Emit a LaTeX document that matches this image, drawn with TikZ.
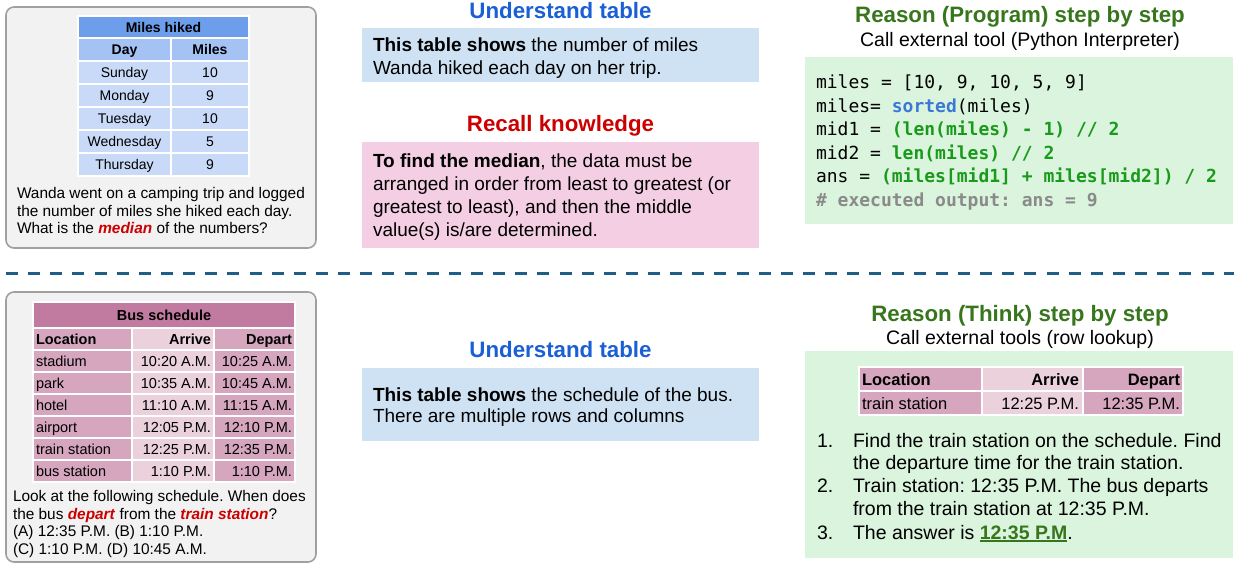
\documentclass[tikz,border=0pt]{standalone}
\usepackage{fontspec}
\setmainfont{Liberation Sans}
\setmonofont{DejaVu Sans Mono}
\frenchspacing

\definecolor{panelfill}{HTML}{F2F2F2}
\definecolor{panelline}{HTML}{A0A0A0}
\definecolor{milesT}{HTML}{6D9EEB}
\definecolor{milesH}{HTML}{A4C2F4}
\definecolor{milesD}{HTML}{C9DAF8}
\definecolor{busT}{HTML}{C27BA0}
\definecolor{busA}{HTML}{D5A6BD}
\definecolor{busB}{HTML}{EAD1DC}
\definecolor{bluebox}{HTML}{CFE2F3}
\definecolor{pinkbox}{HTML}{F4CFE3}
\definecolor{greenbox}{HTML}{DAF4DE}
\definecolor{titleblue}{HTML}{1A5FD6}
\definecolor{titlered}{HTML}{CC0000}
\definecolor{titlegreen}{HTML}{38761D}
\definecolor{codegreen}{HTML}{1A9A1A}
\definecolor{codeblue}{HTML}{3C78D8}
\definecolor{codegray}{HTML}{8A8A8A}
\definecolor{sepcolor}{HTML}{1F5F86}

\newcommand\fsz[2]{\fontsize{#1}{#2}\selectfont}
\newcommand\keyword[1]{\textcolor{titlered}{\textbf{\textit{#1}}}}
\newcommand\answerul[1]{\setbox0\hbox{#1}\rlap{\textcolor{titlegreen}{\rule[-2.6pt]{\wd0}{1.6pt}}}\box0}

\begin{document}
\begin{tikzpicture}[x=1pt,y=-1pt,
  panel/.style={fill=panelfill, draw=panelline, line width=1.6pt, rounded corners=8pt},
  cellbox/.style={draw=white, line width=1.5pt},
  txt/.style={inner sep=0pt, outer sep=0pt},
  tblsmall/.style={txt, font=\fsz{14}{16}},
  tblbus/.style={txt, font=\fsz{14.5}{17}},
  tblright/.style={txt, font=\fsz{16.5}{19}},
  question/.style={txt, anchor=base west, align=left, font=\fsz{15.4}{17.7}},
  boxtext/.style={txt, anchor=base west, align=left},
  headline/.style={txt, anchor=base, font=\bfseries\fsz{22.3}{26}},
  subline/.style={txt, anchor=base, font=\fsz{19.5}{22}},
  sepline/.style={draw=sepcolor, line width=3pt, dash pattern=on 12pt off 10.14pt}]

\useasboundingbox (0,0) rectangle (1234,563);
% multi-line text nodes are placed by the baseline of their last line

% ---------- upper left: question with the miles table ----------
\draw[panel] (6,7) rectangle (316,248);
\filldraw[cellbox, fill=milesT] (78,16) rectangle (249,38);
\node[tblsmall, anchor=base, font=\bfseries\fsz{14}{16}] (mhT) at (163.5,32) {Miles hiked};
\filldraw[cellbox, fill=milesH] (78,38) rectangle (171,61);
\filldraw[cellbox, fill=milesH] (171,38) rectangle (249,61);
\node[tblsmall, anchor=base, font=\bfseries\fsz{14}{16}] (mhDay) at (124.5,54.5) {Day};
\node[tblsmall, anchor=base, font=\bfseries\fsz{14}{16}] (mhMiles) at (210,54.5) {Miles};
\foreach \i/\d/\m in {0/Sunday/10, 1/Monday/9, 2/Tuesday/10, 3/Wednesday/5, 4/Thursday/9} {
  \filldraw[cellbox, fill=milesD] (78,{61+23*\i}) rectangle (171,{84+23*\i});
  \filldraw[cellbox, fill=milesD] (171,{61+23*\i}) rectangle (249,{84+23*\i});
  \node[tblsmall, anchor=base] (day\i) at (124.5,{77.5+23*\i}) {\d};
  \node[tblsmall, anchor=base] (mil\i) at (210,{77.5+23*\i}) {\m};
}
\node[question] (q1) at (17,233.9) {Wanda went on a camping trip and logged\\the number of miles she hiked each day.\\What is the \keyword{median} of the numbers?};

% ---------- upper middle ----------
\node[headline, text=titleblue] (ut1) at (560.5,18.5) {Understand table};
\fill[bluebox] (362,28) rectangle (759,82);
\node[boxtext, font=\fsz{19}{22.5}] (ut1txt) at (373,74) {\textbf{This table shows} the number of miles\\Wanda hiked each day on her trip.};

\node[headline, text=titlered] (rk) at (560.5,131.5) {Recall knowledge};
\fill[pinkbox] (362,142) rectangle (759,248);
\node[boxtext, font=\fsz{19}{23}] (rktxt) at (373,236.5) {\textbf{To find the median}, the data must be\\arranged in order from least to greatest (or\\greatest to least), and then the middle\\value(s) is/are determined.};

% ---------- upper right: program ----------
\node[headline, text=titlegreen] (rp) at (1020,22.5) {Reason (Program) step by step};
\node[subline] (rpsub) at (1020,46.5) {Call external tool (Python Interpreter)};
\fill[greenbox] (805,57) rectangle (1233,224);
\node[boxtext, font=\ttfamily\fsz{18}{23.5}] (code) at (816,206) {%
miles = [10, 9, 10, 5, 9]\\
miles= \textcolor{codeblue}{\textbf{sorted}}(miles)\\
mid1 = \textcolor{codegreen}{\textbf{(len(miles) - 1) // 2}}\\
mid2 = \textcolor{codegreen}{\textbf{len(miles) // 2}}\\
ans = \textcolor{codegreen}{\textbf{(miles[mid1] + miles[mid2]) / 2}}\\
\textcolor{codegray}{\textbf{\# executed output: ans = 9}}};

% ---------- separator ----------
\coordinate (sepL) at (6,273);
\coordinate (sepR) at (1234,273);
\draw[sepline] (sepL) -- (sepR);

% ---------- lower left: question with the bus schedule ----------
\draw[panel] (6,292) rectangle (316,562);
\filldraw[cellbox, fill=busT] (33,302) rectangle (295,328);
\node[tblbus, anchor=base, font=\bfseries\fsz{14.5}{17}] (bsT) at (164,320.2) {Bus schedule};
\filldraw[cellbox, fill=busA] (33,328) rectangle (132,350);
\filldraw[cellbox, fill=busB] (132,328) rectangle (214,350);
\filldraw[cellbox, fill=busA] (214,328) rectangle (295,350);
\node[tblbus, anchor=base west, font=\bfseries\fsz{14.5}{17}] (bsLoc) at (36,344.2) {Location};
\node[tblbus, anchor=base east, font=\bfseries\fsz{14.5}{17}] (bsArr) at (211,344.2) {Arrive};
\node[tblbus, anchor=base east, font=\bfseries\fsz{14.5}{17}] (bsDep) at (292,344.2) {Depart};
\foreach \i/\l/\a/\b in {0/stadium/10:20 A.M./10:25 A.M., 1/park/10:35 A.M./10:45 A.M.,
  2/hotel/11:10 A.M./11:15 A.M., 3/airport/12:05 P.M./12:10 P.M.,
  4/train station/12:25 P.M./12:35 P.M., 5/bus station/1:10 P.M./1:10 P.M.} {
  \filldraw[cellbox, fill=busA] (33,{350+22*\i}) rectangle (132,{372+22*\i});
  \filldraw[cellbox, fill=busB] (132,{350+22*\i}) rectangle (214,{372+22*\i});
  \filldraw[cellbox, fill=busA] (214,{350+22*\i}) rectangle (295,{372+22*\i});
  \node[tblbus, anchor=base west] (loc\i) at (36,{366.2+22*\i}) {\l};
  \node[tblbus, anchor=base east] (arr\i) at (211,{366.2+22*\i}) {\a};
  \node[tblbus, anchor=base east] (dep\i) at (292,{366.2+22*\i}) {\b};
}
\node[question] (q2) at (13,554.6) {Look at the following schedule. When does\\the bus \keyword{depart} from the \keyword{train station}?\\(A) 12:35 P.M. (B) 1:10 P.M.\\(C) 1:10 P.M. (D) 10:45 A.M.};

% ---------- lower middle ----------
\node[headline, text=titleblue] (ut2) at (560.5,357) {Understand table};
\fill[bluebox] (362,368) rectangle (759,441);
\node[boxtext, font=\fsz{19}{21}] (ut2txt) at (373,422.5) {\textbf{This table shows} the schedule of the bus.\\There are multiple rows and columns};

% ---------- lower right: think ----------
\node[headline, text=titlegreen] (rt) at (1020,321) {Reason (Think) step by step};
\node[subline] (rtsub) at (1020,344) {Call external tools (row lookup)};
\fill[greenbox] (805,351) rectangle (1233,558);
\filldraw[cellbox, fill=busA] (859,367) rectangle (982,391);
\filldraw[cellbox, fill=busB] (982,367) rectangle (1083,391);
\filldraw[cellbox, fill=busA] (1083,367) rectangle (1183,391);
\filldraw[cellbox, fill=busA] (859,391) rectangle (982,415);
\filldraw[cellbox, fill=busB] (982,391) rectangle (1083,415);
\filldraw[cellbox, fill=busA] (1083,391) rectangle (1183,415);
\node[tblright, anchor=base west, font=\bfseries\fsz{16.5}{19}] (rLoc) at (862,385) {Location};
\node[tblright, anchor=base east, font=\bfseries\fsz{16.5}{19}] (rArr) at (1079,385) {Arrive};
\node[tblright, anchor=base east, font=\bfseries\fsz{16.5}{19}] (rDep) at (1180,385) {Depart};
\node[tblright, anchor=base west] (rLocV) at (862,409) {train station};
\node[tblright, anchor=base east] (rArrV) at (1079,409) {12:25 P.M.};
\node[tblright, anchor=base east] (rDepV) at (1180,409) {12:35 P.M.};

\node[boxtext, font=\fsz{19.5}{22.7}] (n1) at (817,447) {1.};
\node[boxtext, font=\fsz{19.5}{22.7}] (s1) at (853,469.7) {Find the train station on the schedule. Find\\the departure time for the train station.};
\node[boxtext, font=\fsz{19.5}{22.7}] (n2) at (817,492.5) {2.};
\node[boxtext, font=\fsz{19.5}{22.7}] (s2) at (853,515.2) {Train station: 12:35 P.M. The bus departs\\from the train station at 12:35 P.M.};
\node[boxtext, font=\fsz{19.5}{22.7}] (n3) at (817,539) {3.};
\node[boxtext, font=\fsz{19.5}{22.7}] (s3) at (853,539) {The answer is \answerul{\textcolor{titlegreen}{\textbf{12:35 P.M}}}.};

\end{tikzpicture}
\end{document}
